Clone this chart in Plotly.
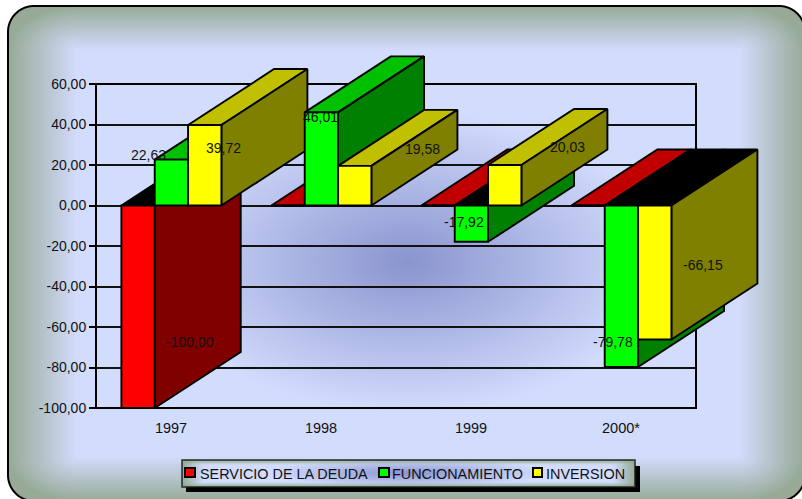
import base64, struct, zlib
import numpy as np
import plotly.graph_objects as go

# ---- data ----
CATEGORIES = ["1997", "1998", "1999", "2000*"]
SERIES_NAMES = ["SERVICIO DE LA DEUDA", "FUNCIONAMIENTO", "INVERSION"]
SERVICIO = [-100.00, 0.0, 0.0, 0.0]
FUNCIONAMIENTO = [22.63, 46.01, -17.92, -79.78]
INVERSION = [39.72, 19.58, 20.03, -66.15]
VALUES = [SERVICIO, FUNCIONAMIENTO, INVERSION]
Y_TICKS = [60, 40, 20, 0, -20, -40, -60, -80, -100]
Y_TICK_LABELS = ["60,00", "40,00", "20,00", "0,00", "-20,00", "-40,00", "-60,00", "-80,00", "-100,00"]

# ---- style ----
FRONT = ["#FF0000", "#00FF00", "#FFFF00"]
TOP = ["#C00000", "#00C000", "#C0C000"]
SIDE = ["#800000", "#008000", "#808000"]
W, H = 802, 499
L, R, T, B = 96, 696, 84, 408
PX_CAT = (R - L) / 4
PX_UNIT = (B - T) / 160
BAR_W = 2 / 9
BAR_SHIFT = 0.4 / PX_CAT
DEPTH_X = 86 / PX_CAT
DEPTH_Y = 56 / PX_UNIT
EDGE = 1.9

# label shift in pixels (right, down) from the top-centre of each bar's front face (series, category)
LABEL_SHIFT = {
    (0, 0): (52, -66), (1, 0): (-23, -5), (1, 1): (-1, 5), (1, 2): (-7, -20),
    (1, 3): (-8, -25), (2, 0): (19, 23), (2, 1): (68, -17), (2, 2): (63, -18),
    (2, 3): (49, -74),
}


def png_uri(img):
    h, w, _ = img.shape
    raw = b"".join(b"\x00" + img[r].tobytes() for r in range(h))

    def chunk(tag, data):
        return struct.pack(">I", len(data)) + tag + data + struct.pack(">I", zlib.crc32(tag + data))

    body = (b"\x89PNG\r\n\x1a\n" + chunk(b"IHDR", struct.pack(">IIBBBBB", w, h, 8, 6, 0, 0, 0))
            + chunk(b"IDAT", zlib.compress(raw, 9)) + chunk(b"IEND", b""))
    return "data:image/png;base64," + base64.b64encode(body).decode()


def panel(xx, yy, box, edges, blob_c, blob_r):
    x0, y0, x1, y1 = box
    el, et, er, eb = edges
    edge = np.array([150, 170, 150.0])
    inner = np.array([210, 220, 253.0])
    blob = np.array([138, 148, 206.0])
    dx = np.maximum(0, np.maximum(1 - (xx - x0) / el, 1 - (x1 - xx) / er))
    dy = np.maximum(0, np.maximum(1 - (yy - y0) / et, 1 - (y1 - yy) / eb))
    d = np.clip(np.sqrt(dx ** 2 + dy ** 2), 0, 1)[..., None]
    s = np.clip(1 - np.sqrt(((xx - blob_c[0]) / blob_r[0]) ** 2 + ((yy - blob_c[1]) / blob_r[1]) ** 2), 0, 1)[..., None]
    c = inner + (blob - inner) * s
    return c + (edge - c) * d


def rr_sdf(xx, yy, box, rad):
    x0, y0, x1, y1 = box
    cx, cy = (x0 + x1) / 2, (y0 + y1) / 2
    qx = np.abs(xx - cx) - (x1 - x0) / 2 + rad
    qy = np.abs(yy - cy) - (y1 - y0) / 2 + rad
    return np.hypot(np.maximum(qx, 0), np.maximum(qy, 0)) + np.minimum(np.maximum(qx, qy), 0) - rad


def over(img, color, mask):
    return img + (np.array(color, float) - img) * np.clip(mask, 0, 1)[..., None]


def background():
    xx, yy = np.meshgrid(np.arange(W) + 0.5, np.arange(H) + 0.5)
    frame = (8, 6, 805, 501)
    img = np.full((H, W, 3), 255.0)
    fill = panel(xx, yy, frame, (70, 44, 66, 44), (408, 262), (255, 150))
    sd = rr_sdf(xx, yy, frame, 26)
    img = img + (fill - img) * np.clip(0.5 - sd, 0, 1)[..., None]
    img = over(img, (0, 0, 0), 1.5 - np.abs(sd))
    # legend box, its drop shadow and gradient
    lg = (182, 460, 635, 487)
    shadow = rr_sdf(xx, yy, (186, 466, 640, 492), 0)
    img = over(img, (0, 0, 0), 0.5 - shadow)
    lsd = rr_sdf(xx, yy, lg, 0)
    lf = panel(xx, yy, lg, (22, 5, 22, 5), (408, 473), (140, 14))
    img = img + (lf - img) * np.clip(0.5 - lsd, 0, 1)[..., None]
    img = over(img, (20, 30, 20), 1.2 - np.abs(lsd))
    return np.dstack([np.round(img).astype(np.uint8), np.full((H, W), 255, np.uint8)])


fig = go.Figure()
z = 0
annotations = []
for c, cat in enumerate(CATEGORIES):
    for s, name in enumerate(SERIES_NAMES):
        v = VALUES[s][c]
        xl = c + (s - 1.5) * BAR_W + BAR_SHIFT
        xr = xl + BAR_W
        top_v = max(v, 0)
        top_colour = "#000000" if v < 0 else TOP[s]
        z += 1
        fig.add_trace(go.Scatter(
            x=[xl, xr, xr + DEPTH_X, xl + DEPTH_X, xl],
            y=[top_v, top_v, top_v + DEPTH_Y, top_v + DEPTH_Y, top_v],
            mode="lines", fill="toself", fillcolor=top_colour, line=dict(color="#000000", width=EDGE),
            cliponaxis=False, hoverinfo="skip", showlegend=False, zorder=z))
        z += 1
        fig.add_trace(go.Scatter(
            x=[xr, xr, xr + DEPTH_X, xr + DEPTH_X, xr],
            y=[0, v, v + DEPTH_Y, DEPTH_Y, 0],
            mode="lines", fill="toself", fillcolor=SIDE[s], line=dict(color="#000000", width=EDGE),
            cliponaxis=False, hoverinfo="skip", showlegend=False, zorder=z))
        z += 1
        fig.add_trace(go.Bar(
            x=[c], y=[v], width=BAR_W, offset=(s - 1.5) * BAR_W + BAR_SHIFT, name=name,
            marker=dict(color=FRONT[s], line=dict(color="#000000", width=EDGE)),
            cliponaxis=False, showlegend=False, zorder=z))
        if (s, c) in LABEL_SHIFT:
            sx, sy = LABEL_SHIFT[(s, c)]
            annotations.append(dict(
                x=c + (s - 1) * BAR_W, y=v, xref="x", yref="y", xshift=sx, yshift=-sy, showarrow=False,
                text=f"{v:.2f}".replace(".", ","), font=dict(size=14, color="#111111")))

# legend entries (drawn by hand: the original packs them tighter than a Plotly legend can)
LEG_X = [(185, 195, 197.5), (379, 389, 390), (533, 542, 544)]
shapes = [dict(type="rect", xref="paper", yref="paper", layer="below", x0=0, x1=1, y0=0, y1=1,
               line=dict(color="#000000", width=2))]
for (x0, x1, xt), colour, name in zip(LEG_X, FRONT, SERIES_NAMES):
    shapes.append(dict(type="rect", xref="paper", yref="paper", layer="above",
                       x0=(x0 - L) / (R - L), x1=(x1 - L) / (R - L),
                       y0=(B - 477) / (B - T), y1=(B - 468) / (B - T),
                       fillcolor=colour, line=dict(color="#000000", width=2)))
    annotations.append(dict(x=(xt - L) / (R - L), y=(B - 473.5) / (B - T), xref="paper", yref="paper",
                            xanchor="left", yanchor="middle", showarrow=False, text=name,
                            font=dict(size=14.4, color="#111111")))

fig.update_layout(
    width=W, height=H, margin=dict(l=L, r=W - R, t=T, b=H - B), autosize=False,
    paper_bgcolor="rgba(0,0,0,0)", plot_bgcolor="rgba(0,0,0,0)", barmode="overlay",
    showlegend=False, font=dict(family="Liberation Sans, Arial, sans-serif", size=14, color="#111111"),
    shapes=shapes, annotations=annotations,
    images=[dict(source=png_uri(background()), xref="paper", yref="paper", x=-L / (R - L), y=B / (B - T),
                 sizex=W / (R - L), sizey=H / (B - T), xanchor="left", yanchor="top",
                 sizing="stretch", layer="below")],
    xaxis=dict(range=[-0.5, 3.5], tickmode="array", tickvals=list(range(len(CATEGORIES))), ticktext=CATEGORIES,
               showgrid=False, zeroline=False, ticks="", ticklabelstandoff=9, showline=False,
               tickfont=dict(size=14.5)),
    yaxis=dict(range=[-100, 60], tickmode="array", tickvals=Y_TICKS, ticktext=Y_TICK_LABELS, ticks="outside", ticklen=6,
               tickwidth=1.5, tickcolor="#000000", showgrid=True, gridcolor="#111111", gridwidth=1.5, zeroline=False,
               showline=False),
)

# Plotly clips the per-zorder plot groups to the plot area; the 3-D depth faces must project past it.
fig.write_html("out.html", config=dict(displayModeBar=False),
               post_script="document.body.style.margin='0';document.body.style.overflow='hidden';"
                           "document.querySelectorAll('.cartesianlayer [clip-path], .cartesianlayer g').forEach(function(e){e.removeAttribute('clip-path');e.style.clipPath='none';});")
